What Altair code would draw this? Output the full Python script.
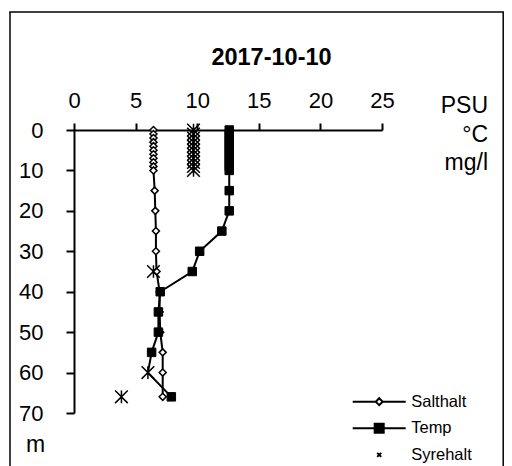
import altair as alt
import pandas as pd

# ---- data ----
series_names = ["Salthalt", "Temp", "Syrehalt"]

sal_depth = [0, 1, 2, 3, 4, 5, 6, 7, 8, 9, 10, 15, 20, 25, 30, 35, 40, 45, 50, 55, 60, 66]
sal_value = [6.45, 6.45, 6.45, 6.45, 6.45, 6.45, 6.45, 6.45, 6.45, 6.45, 6.45,
             6.55, 6.6, 6.65, 6.65, 6.7, 6.95, 6.95, 7.0, 7.2, 7.2, 7.2]

temp_depth = [0, 1, 2, 3, 4, 5, 6, 7, 8, 9, 10, 15, 20, 25, 30, 35, 40, 45, 50, 55, 60, 66]
temp_value = [12.6, 12.6, 12.6, 12.6, 12.6, 12.6, 12.6, 12.6, 12.6, 12.6, 12.6,
              12.6, 12.6, 12.0, 10.2, 9.6, 7.0, 6.85, 6.85, 6.3, 6.0, 7.9]
temp_marker = [1, 1, 1, 1, 1, 1, 1, 1, 1, 1, 1, 1, 1, 1, 1, 1, 1, 1, 1, 1, 0, 1]

oxy_depth = [0, 1, 2, 3, 4, 5, 6, 7, 8, 9, 10, 35, 60, 66]
oxy_value = [9.7, 9.7, 9.7, 9.7, 9.7, 9.7, 9.7, 9.7, 9.7, 9.7, 9.7, 6.45, 6.0, 3.85]

x_ticks = [0, 5, 10, 15, 20, 25]
y_ticks = [0, 10, 20, 30, 40, 50, 60, 70]

station_title = "Station Vaoo"
date_title = "2017-10-10"
unit_labels = ["PSU", "°C", "mg/l"]
depth_unit = "m"

FONT = "Liberation Sans"

sal_df = pd.DataFrame({"depth": sal_depth, "value": sal_value})
temp_df = pd.DataFrame({"depth": temp_depth, "value": temp_value, "marker": temp_marker})
oxy_df = pd.DataFrame({"depth": oxy_depth, "value": oxy_value})

W, H = 308, 283

xscale = alt.Scale(domain=[0, 25], nice=False, zero=False)
yscale = alt.Scale(domain=[0, 70], reverse=True, nice=False, zero=False)

xaxis = alt.Axis(orient="top", values=x_ticks, title=None, grid=False,
                 tickSize=7, tickWidth=2, domainWidth=2, tickColor="black",
                 domainColor="black", labelFontSize=22, labelFont=FONT,
                 labelColor="black", labelPadding=11, labelFlush=False,
                 labelOverlap=False)
yaxis = alt.Axis(orient="left", values=y_ticks, title=None, grid=False,
                 tickSize=8, tickWidth=2, domainWidth=2, tickColor="black",
                 domainColor="black", labelFontSize=22, labelFont=FONT,
                 labelColor="black", labelPadding=23, labelFlush=False,
                 labelOverlap=False)

X = alt.X("value:Q", scale=xscale, axis=xaxis)
Y = alt.Y("depth:Q", scale=yscale, axis=yaxis)
Xn = alt.X("value:Q", scale=xscale)
Yn = alt.Y("depth:Q", scale=yscale)

sal_line = alt.Chart(sal_df).mark_line(color="black", strokeWidth=2).encode(
    x=X, y=Y, order="depth:Q")
sal_pts = alt.Chart(sal_df).mark_point(shape="diamond", size=49, fill="white",
                                       stroke="black", strokeWidth=1.5,
                                       opacity=1, filled=False).encode(x=Xn, y=Yn)
temp_line = alt.Chart(temp_df).mark_line(color="black", strokeWidth=2).encode(
    x=Xn, y=Yn, order="depth:Q")
temp_pts = alt.Chart(temp_df).transform_filter("datum.marker == 1").mark_point(
    shape="square", size=72, fill="black", stroke="black", strokeWidth=1,
    opacity=1, filled=True).encode(x=Xn, y=Yn)
star = "M-1,-1L1,1M-1,1L1,-1M0,-1L0,1"
oxy_pts = alt.Chart(oxy_df).mark_point(shape=star, size=160, stroke="black",
                                       strokeWidth=1.5, opacity=1,
                                       filled=False).encode(x=Xn, y=Yn)

# legend (a real Vega-Lite legend with custom symbols)
p_sal = "M-1,0L-0.13,0M0.13,0L1,0M-0.13,0L0,-0.13L0.13,0L0,0.13Z"
p_temp = "M-1,0L1,0M-0.17,-0.17L0.17,-0.17L0.17,0.17L-0.17,0.17Z"
p_oxy = "M-0.075,-0.075L0.075,0.075M-0.075,0.075L0.075,-0.075"
leg = alt.Legend(title=None, orient="none", legendX=277.7, legendY=263.7,
                 symbolSize=2809, clipHeight=16, rowPadding=9.6,
                 labelOffset=4.5, labelFont=FONT, labelFontSize=16.5,
                 labelColor="black", symbolStrokeColor="black",
                 symbolStrokeWidth=2, padding=0, offset=0, labelLimit=200)
leg_df = pd.DataFrame({"serie": series_names})
legend_layer = alt.Chart(leg_df).transform_filter("false").mark_point(
    filled=True, strokeWidth=2, opacity=1).encode(
    shape=alt.Shape("serie:N", scale=alt.Scale(domain=series_names,
                                               range=[p_sal, p_temp, p_oxy]),
                    legend=leg),
    fill=alt.Fill("serie:N", scale=alt.Scale(domain=series_names,
                                             range=["white", "black", "black"]),
                  legend=leg),
    stroke=alt.Stroke("serie:N", scale=alt.Scale(domain=series_names,
                                                 range=["black", "black", "black"]),
                      legend=leg),
)

one = pd.DataFrame({"k": [0]})

def vrule(x, y1, y2):
    return alt.Chart(one).mark_rule(color="black", strokeWidth=1.5).encode(
        x=alt.value(x), y=alt.value(y1), y2=alt.value(y2))

RIGHT = 429.2
border = [
    vrule(-64, -118, 340),
    vrule(RIGHT, -118, 340),
    alt.Chart(one).mark_rule(color="black", strokeWidth=1.5).encode(
        x=alt.value(-64.75), x2=alt.value(RIGHT + 0.75), y=alt.value(-118)),
]

def label(txt, x, y, size=22, weight="normal", align="left", baseline="middle"):
    return alt.Chart(one).mark_text(text=txt, font=FONT, fontSize=size,
                                    fontWeight=weight, align=align,
                                    baseline=baseline, color="black").encode(
        x=alt.value(x), y=alt.value(y))

texts = [
    label(station_title, -72, -126, size=25, weight="bold", baseline="alphabetic"),
    label(date_title, 197.5, -72.5, size=23.5, weight="bold", align="center"),
    label(unit_labels[0], 414, -24, size=23, align="right"),
    label(unit_labels[1], 414, 5, size=23, align="right"),
    label(unit_labels[2], 414, 33, size=23, align="right"),
    label(depth_unit, -48, 322, size=23, baseline="alphabetic"),
]

chart = alt.layer(*border, sal_line, sal_pts, temp_line, temp_pts, oxy_pts,
                  legend_layer, *texts).properties(
    width=W, height=H,
    autosize=alt.AutoSizeParams(type="none"),
    padding={"left": 66, "top": 122, "right": 122, "bottom": 53},
    background="white",
).configure_view(stroke=None)

chart.save("out.html", embed_options={"renderer": "svg", "actions": False})
